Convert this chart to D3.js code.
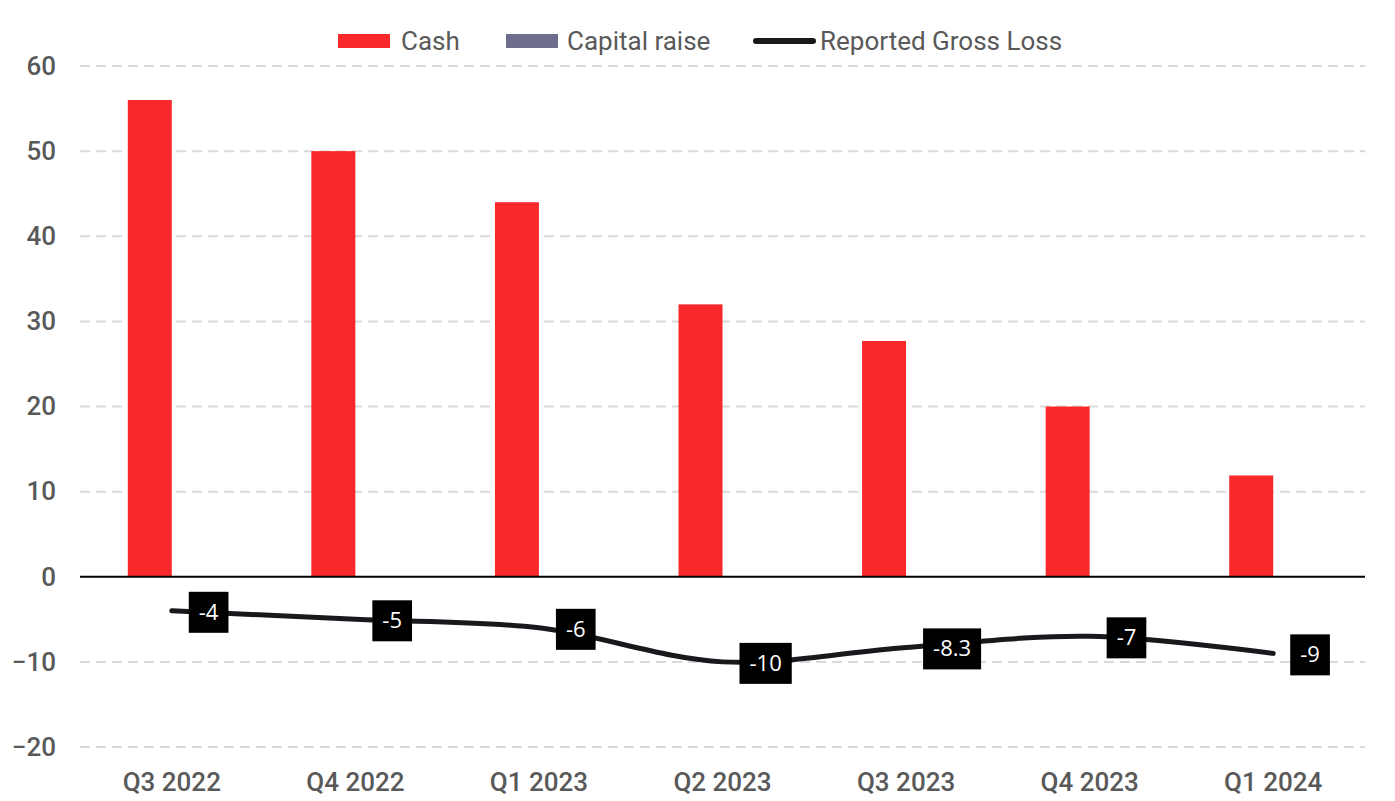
<!DOCTYPE html>
<html><head><meta charset="utf-8">
<script src="https://cdn.jsdelivr.net/npm/d3@7"></script>
<style>body{margin:0;background:#fff}svg{display:block}</style>
</head><body>
<script>
const categories = ["Q3 2022","Q4 2022","Q1 2023","Q2 2023","Q3 2023","Q4 2023","Q1 2024"];
const cash = [56, 50, 44, 32, 27.7, 20, 11.9];
const capitalRaise = [0, 0, 0, 0, 0, 0, 0];
const grossLoss = [-4, -5, -6, -10, -8.3, -7, -9];
const grossLossLabels = ["-4","-5","-6","-10","-8.3","-7","-9"];
const yTicks = [60, 50, 40, 30, 20, 10, 0, -10, -20];

(function() {
const W = 1395, H = 801;
const svg = d3.select("body").append("svg").attr("width", W).attr("height", H);
const pLeft = 80, pRight = 1365, pTop = 66, pBottom = 747;

const x = d3.scaleBand().domain(categories).range([pLeft, pRight]).paddingInner(0).paddingOuter(0);
const y = d3.scaleLinear().domain([-20, 60]).range([pBottom, pTop]);
const groupW = 88;
const x1 = d3.scaleBand().domain(["cash","cap"]).range([0, groupW]);

// grid
svg.append("g").selectAll("line").data(yTicks.filter(d => d !== 0)).join("line")
  .attr("x1", pLeft).attr("x2", pRight)
  .attr("y1", d => y(d)).attr("y2", d => y(d))
  .attr("stroke", "#d9d9d9").attr("stroke-width", 2).attr("stroke-dasharray", "10,6");

// y axis labels
const yAxis = d3.axisLeft(y).tickValues(yTicks).tickSize(0).tickPadding(0);
const gy = svg.append("g").attr("transform", `translate(56,0)`).call(yAxis);
gy.select(".domain").remove();
gy.selectAll("text").attr("font-family", "Roboto").attr("font-size", 26).attr("font-weight", 500)
  .attr("fill", "#595959");

// x axis labels
const xAxis = d3.axisBottom(x).tickSize(0).tickPadding(0);
const gx = svg.append("g").attr("transform", `translate(0,791)`).call(xAxis);
gx.select(".domain").remove();
gx.selectAll("text").attr("y", 0).attr("dy", 0)
  .attr("font-family", "Roboto").attr("font-size", 26).attr("font-weight", 500)
  .attr("fill", "#595959");

// bars
svg.append("g").selectAll("rect").data(cash).join("rect")
  .attr("x", (d, i) => x(categories[i]) + x.bandwidth()/2 - groupW/2 + x1("cash"))
  .attr("width", x1.bandwidth())
  .attr("y", d => y(d)).attr("height", d => y(0) - y(d))
  .attr("fill", "#f9292b");
svg.append("g").selectAll("rect").data(capitalRaise).join("rect")
  .attr("x", (d, i) => x(categories[i]) + x.bandwidth()/2 - groupW/2 + x1("cap"))
  .attr("width", x1.bandwidth())
  .attr("y", d => y(Math.max(0, d))).attr("height", d => Math.abs(y(0) - y(d)))
  .attr("fill", "#6e6f8e");

// zero line
svg.append("line").attr("x1", pLeft).attr("x2", pRight).attr("y1", y(0)).attr("y2", y(0))
  .attr("stroke", "#000").attr("stroke-width", 2);

// line
const cx = i => x(categories[i]) + x.bandwidth()/2;
const line = d3.line().x((d, i) => cx(i)).y(d => y(d)).curve(d3.curveCardinal.tension(0));
svg.append("path").datum(grossLoss).attr("d", line)
  .attr("fill", "none").attr("stroke", "#19191d").attr("stroke-width", 5).attr("stroke-linecap", "round");

// labels
const lg = svg.append("g").selectAll("g").data(grossLoss).join("g")
  .attr("transform", (d, i) => `translate(${cx(i) + 17},${y(d) + 1})`);
lg.each(function(d, i) {
  const g = d3.select(this);
  const t = g.append("text").text(grossLossLabels[i]).attr("x", 10).attr("y", 8)
    .attr("font-family", "Open Sans").attr("font-size", 22).attr("fill", "#fff");
  const w = t.node().getComputedTextLength();
  g.insert("rect", "text").attr("x", 0).attr("y", -20).attr("width", w + 20).attr("height", 41).attr("fill", "#000");
});

// legend
const leg = svg.append("g");
leg.append("rect").attr("x", 338).attr("y", 34).attr("width", 52).attr("height", 14).attr("fill", "#f9292b");
leg.append("text").attr("x", 401).attr("y", 50).text("Cash");
leg.append("rect").attr("x", 506).attr("y", 34).attr("width", 52).attr("height", 14).attr("fill", "#6e6f8e");
leg.append("text").attr("x", 567).attr("y", 50).text("Capital raise");
leg.append("line").attr("x1", 756).attr("x2", 813).attr("y1", 41).attr("y2", 41)
  .attr("stroke", "#19191d").attr("stroke-width", 6).attr("stroke-linecap", "round");
leg.append("text").attr("x", 820).attr("y", 50).text("Reported Gross Loss");
leg.selectAll("text").attr("font-family", "Roboto").attr("font-size", 26).attr("fill", "#595959");
})();
</script>
</body></html>
